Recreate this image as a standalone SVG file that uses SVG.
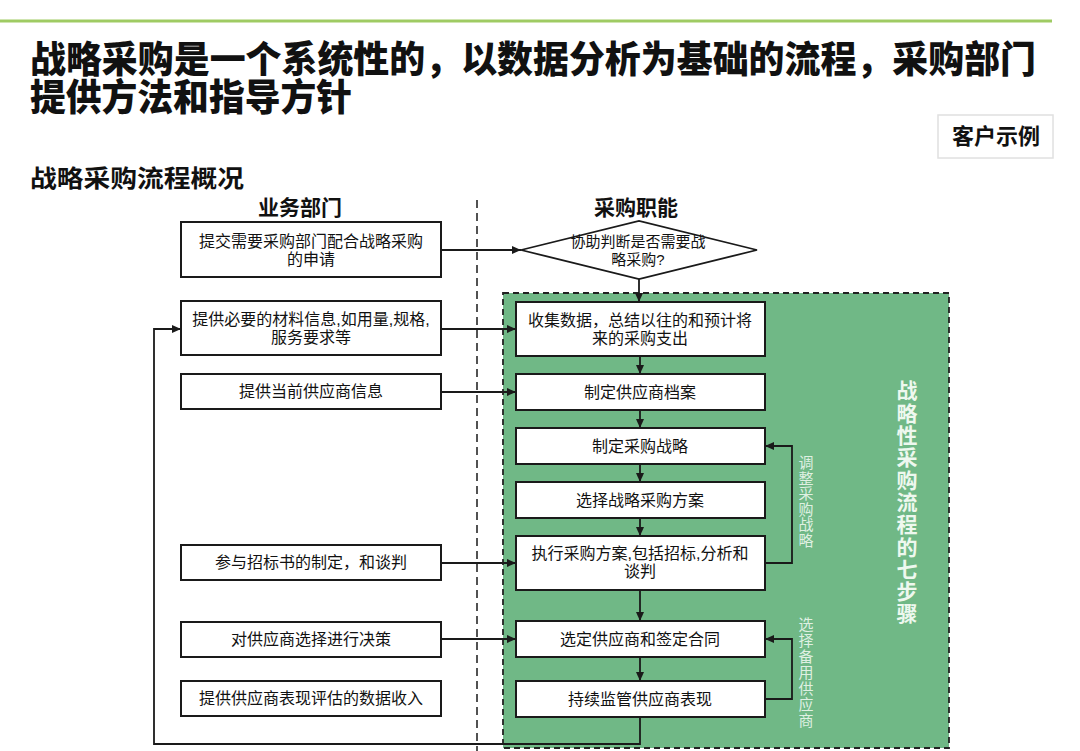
<svg xmlns="http://www.w3.org/2000/svg" width="1080" height="751" viewBox="0 0 1080 751">
<defs>
<style>
text{font-family:"Liberation Sans","Noto Sans CJK SC",sans-serif;fill:#111;}
.title{font-family:"Noto Sans CJK SC",sans-serif;font-size:37px;font-weight:900;}
.sub{font-family:"Noto Sans CJK SC",sans-serif;font-size:24px;font-weight:700;}
.hdr{font-family:"Noto Sans CJK SC",sans-serif;font-size:21px;font-weight:700;text-anchor:middle;}
.bt{font-size:16px;text-anchor:middle;}
.box{fill:#fff;stroke:#1a1a1a;stroke-width:2;}
.conn{fill:none;stroke:#1a1a1a;stroke-width:1.8;}
.vl{font-family:"Noto Sans CJK SC",sans-serif;font-size:15px;fill:#dff0e2;writing-mode:vertical-rl;}
.vb{font-family:"Noto Sans CJK SC",sans-serif;font-size:21px;font-weight:700;fill:#eef8ef;writing-mode:vertical-rl;letter-spacing:1.3px;}
</style>
<marker id="arr" markerUnits="userSpaceOnUse" markerWidth="9" markerHeight="8" refX="9" refY="4" orient="auto">
<path d="M0,0 L9,4 L0,8 z" fill="#1a1a1a"/>
</marker>
</defs>
<rect width="1080" height="751" fill="#fff"/>
<line x1="0" y1="21" x2="1052" y2="21" stroke="#9fcb63" stroke-width="3"/>
<text class="title" x="30" y="73" textLength="1006" lengthAdjust="spacingAndGlyphs">战略采购是一个系统性的，以数据分析为基础的流程，采购部门</text>
<text class="title" x="30" y="111" textLength="322" lengthAdjust="spacingAndGlyphs">提供方法和指导方针</text>
<g id="tag">
<rect x="938" y="115" width="115" height="43" fill="#fff" stroke="#e0e0e0" stroke-width="1.5"/>
<text x="996" y="144" style="font-family:'Noto Sans CJK SC',sans-serif;font-size:22px;font-weight:700;text-anchor:middle;">客户示例</text>
</g>
<text class="sub" x="30" y="187" textLength="214" lengthAdjust="spacingAndGlyphs">战略采购流程概况</text>
<text class="hdr" x="300" y="215">业务部门</text>
<text class="hdr" x="636" y="215">采购职能</text>
<g id="region">
<rect x="503" y="293" width="446" height="455" fill="#70b886" stroke="#222" stroke-width="1.8" stroke-dasharray="6,4"/>
<text class="vb" x="907" y="380">战略性采购流程的七步骤</text>
</g>
<line x1="477" y1="200" x2="477" y2="751" stroke="#1a1a1a" stroke-width="1.5" stroke-dasharray="8,5"/>
<g id="connectors">
<line class="conn" x1="441" y1="250" x2="521" y2="250" marker-end="url(#arr)"/>
<line class="conn" x1="639" y1="279" x2="639" y2="302" marker-end="url(#arr)"/>
<line class="conn" x1="441" y1="329" x2="516" y2="329" marker-end="url(#arr)"/>
<line class="conn" x1="441" y1="392" x2="516" y2="392" marker-end="url(#arr)"/>
<line class="conn" x1="441" y1="563" x2="516" y2="563" marker-end="url(#arr)"/>
<line class="conn" x1="441" y1="639" x2="516" y2="639" marker-end="url(#arr)"/>
<line class="conn" x1="640" y1="356" x2="640" y2="374" marker-end="url(#arr)"/>
<line class="conn" x1="640" y1="410" x2="640" y2="428" marker-end="url(#arr)"/>
<line class="conn" x1="640" y1="464" x2="640" y2="482" marker-end="url(#arr)"/>
<line class="conn" x1="640" y1="518" x2="640" y2="536" marker-end="url(#arr)"/>
<line class="conn" x1="640" y1="590" x2="640" y2="621" marker-end="url(#arr)"/>
<line class="conn" x1="640" y1="657" x2="640" y2="681" marker-end="url(#arr)"/>
<polyline class="conn" points="765,563 792,563 792,446 765,446" marker-end="url(#arr)"/>
<polyline class="conn" points="765,699 792,699 792,639 765,639" marker-end="url(#arr)"/>
<polyline class="conn" points="640,717 640,744 154,744 154,329 181,329" marker-end="url(#arr)"/>
</g>
<text class="vl" x="806" y="455" style="letter-spacing:0.5px">调整采购战略</text>
<text class="vl" x="806" y="617" style="letter-spacing:0.9px">选择备用供应商</text>
<g id="b1"><rect class="box" x="181" y="222" width="260" height="55"/><text class="bt" x="311" y="247">提交需要采购部门配合战略采购</text><text class="bt" x="311" y="265">的申请</text></g>
<g id="b2"><rect class="box" x="181" y="301" width="260" height="54"/><text class="bt" x="311" y="325">提供必要的材料信息,如用量,规格,</text><text class="bt" x="311" y="343">服务要求等</text></g>
<g id="b3"><rect class="box" x="181" y="374" width="260" height="35"/><text class="bt" x="311" y="397">提供当前供应商信息</text></g>
<g id="b4"><rect class="box" x="181" y="545" width="260" height="35"/><text class="bt" x="311" y="568">参与招标书的制定，和谈判</text></g>
<g id="b5"><rect class="box" x="181" y="622" width="260" height="35"/><text class="bt" x="311" y="645">对供应商选择进行决策</text></g>
<g id="b6"><rect class="box" x="181" y="681" width="260" height="35"/><text class="bt" x="311" y="704">提供供应商表现评估的数据收入</text></g>
<g id="d1"><polygon points="521,250 639,221 757,250 639,279" fill="#fff" stroke="#1a1a1a" stroke-width="1.8"/><text class="bt" x="638" y="247" style="font-size:15px">协助判断是否需要战</text><text class="bt" x="638" y="265" style="font-size:15px">略采购?</text></g>
<g id="r1"><rect class="box" x="516" y="302" width="249" height="54"/><text class="bt" x="640" y="326">收集数据，总结以往的和预计将</text><text class="bt" x="640" y="344">来的采购支出</text></g>
<g id="r2"><rect class="box" x="516" y="374" width="249" height="36"/><text class="bt" x="640" y="398">制定供应商档案</text></g>
<g id="r3"><rect class="box" x="516" y="428" width="249" height="36"/><text class="bt" x="640" y="452">制定采购战略</text></g>
<g id="r4"><rect class="box" x="516" y="482" width="249" height="36"/><text class="bt" x="640" y="506">选择战略采购方案</text></g>
<g id="r5"><rect class="box" x="516" y="536" width="249" height="54"/><text class="bt" x="640" y="559">执行采购方案,包括招标,分析和</text><text class="bt" x="640" y="577">谈判</text></g>
<g id="r6"><rect class="box" x="516" y="621" width="249" height="36"/><text class="bt" x="640" y="645">选定供应商和签定合同</text></g>
<g id="r7"><rect class="box" x="516" y="681" width="249" height="36"/><text class="bt" x="640" y="705">持续监管供应商表现</text></g>
</svg>
